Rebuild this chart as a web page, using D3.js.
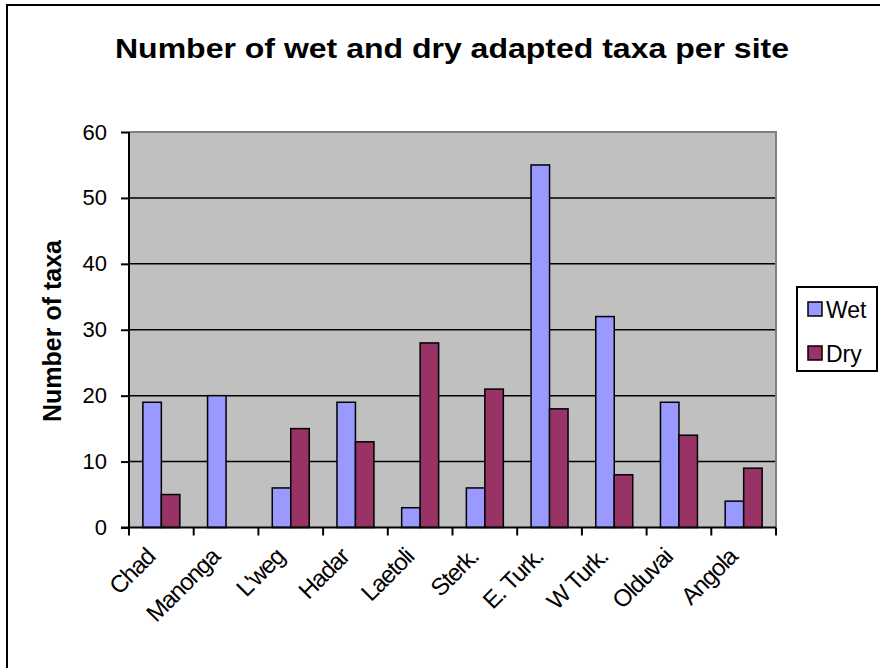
<!DOCTYPE html>
<html>
<head>
<meta charset="utf-8">
<script src="https://cdn.jsdelivr.net/npm/d3@7"></script>
<style>
  html, body { margin: 0; padding: 0; background: #fff; }
  svg { display: block; font-family: "Liberation Sans", Arial, sans-serif; }
</style>
</head>
<body>
<svg id="chart" width="880" height="668"></svg>
<script>
const categories = ["Chad", "Manonga", "L'weg", "Hadar", "Laetoli", "Sterk.", "E. Turk.", "W Turk.", "Olduvai", "Angola"];
const wetValues = [19, 20, 6, 19, 3, 6, 55, 32, 19, 4];
const dryValues = [5, 0, 15, 13, 28, 21, 18, 8, 14, 9];
const seriesNames = ["Wet", "Dry"];
const seriesColors = ["#9999FF", "#993366"];
const yTicks = [0, 10, 20, 30, 40, 50, 60];
const titleText = "Number of wet and dry adapted taxa per site";
const yLabelText = "Number of taxa";

const svg = d3.select("#chart");

// outer frame (extends past right/bottom edge)
svg.append("rect").attr("x", 7).attr("y", 5).attr("width", 1000).attr("height", 1000)
  .attr("fill", "#fff").attr("stroke", "#000").attr("stroke-width", 2);

const plot = { left: 129, right: 776, top: 132, bottom: 527.5 };

const x = d3.scaleBand().domain(categories).range([plot.left, plot.right]).paddingInner(0).paddingOuter(0);
const xs = d3.scaleBand().domain(seriesNames).range([0, x.bandwidth()]).paddingInner(0).paddingOuter(0.75);
const y = d3.scaleLinear().domain([0, 60]).range([plot.bottom, plot.top]);

// plot background
svg.append("rect").attr("x", plot.left).attr("y", plot.top)
  .attr("width", plot.right - plot.left).attr("height", plot.bottom - plot.top)
  .attr("fill", "#C0C0C0");

// gridlines
svg.append("g").selectAll("line").data(yTicks.filter(d => d > 0 && d < 60)).join("line")
  .attr("x1", plot.left).attr("x2", plot.right)
  .attr("y1", d => y(d)).attr("y2", d => y(d))
  .attr("stroke", "#000").attr("stroke-width", 1.5);

// plot border top/right gray
svg.append("path")
  .attr("d", `M${plot.left},${plot.top}H${plot.right}V${plot.bottom}`)
  .attr("fill", "none").attr("stroke", "#808080").attr("stroke-width", 2);

// bars
const rows = categories.map((c, i) => ({ cat: c, vals: [wetValues[i], dryValues[i]] }));
const g = svg.append("g").selectAll("g").data(rows).join("g")
  .attr("transform", d => `translate(${x(d.cat)},0)`);
g.selectAll("rect").data(d => d.vals.map((v, j) => ({ key: seriesNames[j], v, j })).filter(e => e.v > 0))
  .join("rect")
  .attr("x", e => xs(e.key))
  .attr("width", xs.bandwidth())
  .attr("y", e => y(e.v))
  .attr("height", e => y(0) - y(e.v))
  .attr("fill", e => seriesColors[e.j])
  .attr("stroke", "#000").attr("stroke-width", 1.5);

// y axis
const yAxis = d3.axisLeft(y).tickValues(yTicks).tickSize(8).tickPadding(14).tickFormat(d3.format("d"));
const ya = svg.append("g").attr("transform", `translate(${plot.left},0)`).call(yAxis);
ya.select(".domain").attr("stroke", "#000").attr("stroke-width", 2).attr("d", `M-8,${plot.bottom}H0V${plot.top}`);
ya.selectAll(".tick line").attr("stroke", "#000").attr("stroke-width", 2);
ya.selectAll(".tick text").attr("font-size", 22).attr("fill", "#000").attr("font-family", "Liberation Sans, Arial, sans-serif");

// x axis
const xa = svg.append("g").attr("transform", `translate(0,${plot.bottom})`);
xa.append("line").attr("x1", plot.left).attr("x2", plot.right).attr("y1", 0).attr("y2", 0)
  .attr("stroke", "#000").attr("stroke-width", 2);
const bounds = categories.map(c => x(c)).concat([plot.right]);
xa.selectAll("line.tk").data(bounds).join("line").attr("class", "tk")
  .attr("x1", d => d).attr("x2", d => d).attr("y1", 0).attr("y2", 8)
  .attr("stroke", "#000").attr("stroke-width", 2);
xa.selectAll("text").data(categories).join("text")
  .attr("transform", d => `translate(${x(d) + x.bandwidth() / 2 - 5},${31}) rotate(-45)`)
  .attr("text-anchor", "end")
  .attr("font-size", 24)
  .attr("letter-spacing", -1.2)
  .text(d => d);

// title
svg.append("text").attr("x", 452).attr("y", 58).attr("text-anchor", "middle")
  .attr("font-size", 27).attr("font-weight", "bold")
  .attr("textLength", 674).attr("lengthAdjust", "spacingAndGlyphs")
  .text(titleText);

// y label
svg.append("text").attr("transform", `translate(61,331) rotate(-90)`).attr("text-anchor", "middle")
  .attr("font-size", 25).attr("font-weight", "bold")
  .text(yLabelText);

// legend
const lg = svg.append("g");
lg.append("rect").attr("x", 797).attr("y", 287).attr("width", 80).attr("height", 84)
  .attr("fill", "#fff").attr("stroke", "#000").attr("stroke-width", 2);
const li = lg.selectAll("g").data(seriesNames).join("g")
  .attr("transform", (d, i) => `translate(808,${302 + i * 44})`);
li.append("rect").attr("width", 14).attr("height", 14)
  .attr("fill", (d, i) => seriesColors[i]).attr("stroke", "#000").attr("stroke-width", 1.5);
li.append("text").attr("x", 18).attr("y", 16).attr("font-size", 23).text(d => d);
</script>
</body>
</html>
